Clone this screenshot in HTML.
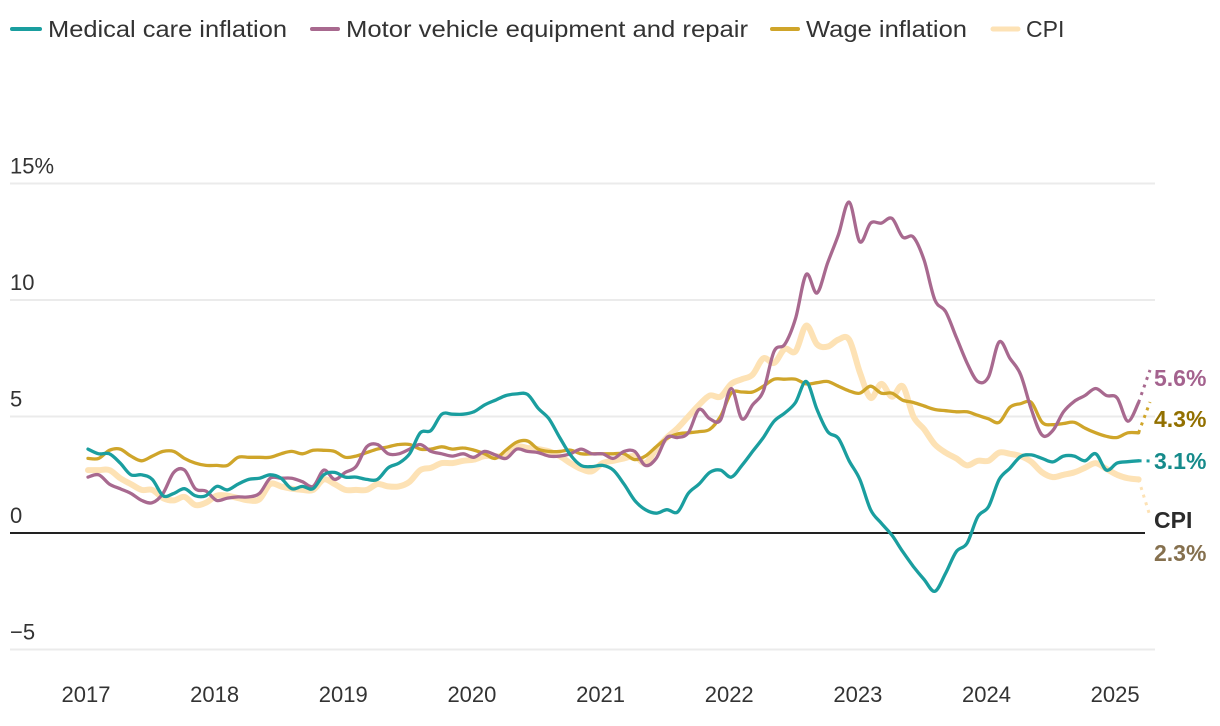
<!DOCTYPE html>
<html><head><meta charset="utf-8"><style>
html,body{margin:0;padding:0;background:#fff;}
svg{display:block;font-family:"Liberation Sans",sans-serif;}
</style></head><body>
<svg id="chart" width="1220" height="726" viewBox="0 0 1220 726">
<g id="legend">
  <g><line x1="12" y1="29" x2="40" y2="29" stroke="#1a9e9f" stroke-width="4" stroke-linecap="round"/><text x="48" y="37" font-size="23" fill="#333" textLength="239" lengthAdjust="spacingAndGlyphs">Medical care inflation</text></g>
  <g><line x1="312" y1="29" x2="338" y2="29" stroke="#a8698f" stroke-width="4" stroke-linecap="round"/><text x="346" y="37" font-size="23" fill="#333" textLength="402" lengthAdjust="spacingAndGlyphs">Motor vehicle equipment and repair</text></g>
  <g><line x1="772" y1="29" x2="798" y2="29" stroke="#cfa52a" stroke-width="4" stroke-linecap="round"/><text x="806" y="37" font-size="23" fill="#333" textLength="161" lengthAdjust="spacingAndGlyphs">Wage inflation</text></g>
  <g><line x1="993" y1="29" x2="1018" y2="29" stroke="#fde2b5" stroke-width="5" stroke-linecap="round"/><text x="1026" y="37" font-size="23" fill="#333">CPI</text></g>
</g>
<g id="grid"></g>
<g id="series"></g>
<g id="xaxis"></g>
<g id="labels"></g>
</svg>
<script>
const yTicks = [15, 10, 5, 0, -5];
const yTickLabels = ["15%", "10", "5", "0", "\u22125"];
const xYears = [2017, 2018, 2019, 2020, 2021, 2022, 2023, 2024, 2025];
const medical = [3.6,3.4,3.4,3.0,2.5,2.5,2.3,1.6,1.7,1.9,1.6,1.6,2.0,1.85,2.1,2.3,2.35,2.5,2.35,1.9,2.0,1.9,2.5,2.6,2.4,2.4,2.3,2.3,2.8,3.0,
3.4,4.3,4.4,5.1,5.1,5.1,5.2,5.5,5.7,5.9,5.97,5.95,5.35,4.9,4.1,3.35,2.9,2.85,2.9,2.7,2.1,1.4,1.0,0.85,1.0,0.9,1.7,2.1,2.6,2.7,
2.4,2.9,3.5,4.1,4.8,5.15,5.6,6.5,5.3,4.35,4.06,3.1,2.3,1.0,0.42,-0.1,-0.8,-1.44,-2.0,-2.5,-1.73,-0.8,-0.44,0.7,1.13,2.3,2.78,3.28,3.35,3.2,3.05,3.3,3.3,3.1,3.4,2.7,3.0,3.06,3.1];
const motor = [2.4,2.5,2.1,1.9,1.7,1.4,1.3,1.7,2.6,2.7,1.9,1.8,1.4,1.5,1.55,1.55,1.7,2.35,2.35,2.35,2.2,2.0,2.7,2.3,2.6,2.85,3.7,3.8,3.4,3.4,
3.6,3.8,3.5,3.4,3.3,3.4,3.25,3.5,3.35,3.2,3.6,3.5,3.45,3.3,3.3,3.4,3.6,3.4,3.4,3.2,3.5,3.5,2.9,3.2,4.1,4.1,4.3,5.3,4.9,4.85,
6.2,4.9,5.5,6.1,7.8,8.1,9.2,11.1,10.3,11.6,12.8,14.2,12.5,13.3,13.3,13.5,12.7,12.7,11.7,10.0,9.5,8.4,7.3,6.5,6.7,8.2,7.5,6.8,5.3,4.2,4.4,5.2,5.65,5.9,6.2,5.9,5.8,4.8,5.6];
const wage = [3.2,3.2,3.55,3.6,3.3,3.1,3.3,3.5,3.5,3.2,3.0,2.9,2.9,2.9,3.25,3.25,3.25,3.25,3.4,3.5,3.4,3.55,3.55,3.5,3.25,3.3,3.45,3.6,3.7,3.8,
3.8,3.6,3.6,3.7,3.6,3.65,3.56,3.4,3.2,3.56,3.9,3.95,3.6,3.5,3.5,3.56,3.4,3.4,3.4,3.4,3.4,3.15,3.3,3.7,4.06,4.25,4.3,4.35,4.45,5.0,
6.0,6.05,6.05,6.3,6.6,6.6,6.6,6.4,6.45,6.5,6.3,6.1,6.0,6.3,6.0,6.0,5.7,5.6,5.45,5.3,5.25,5.2,5.2,5.05,4.9,4.75,5.4,5.55,5.6,4.75,4.65,4.7,4.75,4.5,4.3,4.15,4.1,4.3,4.3];
const cpi = [2.7,2.7,2.7,2.35,2.1,1.85,1.85,1.5,1.4,1.55,1.2,1.3,1.6,1.6,1.5,1.4,1.45,2.1,2.0,1.9,1.85,1.85,2.3,2.1,1.85,1.85,1.85,2.1,2.0,2.0,
2.2,2.7,2.8,3.0,3.0,3.1,3.15,3.3,3.3,3.3,3.7,3.65,3.6,3.5,3.3,3.0,2.75,2.65,3.0,3.1,3.2,3.3,3.0,3.6,4.1,4.5,5.0,5.5,5.9,5.85,
6.4,6.6,6.8,7.5,7.3,7.9,7.8,8.9,8.1,8.0,8.3,8.3,6.9,5.8,6.4,5.85,6.3,5.0,4.45,3.8,3.45,3.2,2.9,3.1,3.1,3.45,3.4,3.3,3.05,2.6,2.4,2.5,2.6,2.8,3.0,2.75,2.5,2.35,2.3];
const endLabels = ["5.6%", "4.3%", "3.1%", "CPI", "2.3%"];

const NS = "http://www.w3.org/2000/svg";
function x(m){ return 88 + m * 10.72; }
function y(v){ return 533 - v * 23.3; }
function mk(tag, attrs, parent){ const e = document.createElementNS(NS, tag); for (const k in attrs) e.setAttribute(k, attrs[k]); parent.appendChild(e); return e; }

const grid = document.getElementById('grid');
yTicks.forEach((t, i) => {
  const l = mk('line', {x1:10, x2: t === 0 ? 1145 : 1155, y1:y(t), y2:y(t), stroke: t === 0 ? '#222' : '#ebebeb', 'stroke-width': 2}, grid);
  
  
  const tx = mk('text', {x:10, y:y(t) - 10, 'font-size':22, fill:'#333'}, grid);
  tx.textContent = yTickLabels[i];
  
  
});

const xa = document.getElementById('xaxis');
xYears.forEach((yr, i) => {
  const tx = mk('text', {x:x(i * 12) - 2, y:702, 'font-size':22, fill:'#333', 'text-anchor':'middle'}, xa);
  tx.textContent = yr;
  
  
});

const sg = document.getElementById('series');
function smoothPath(data){
  const pts = data.map((v, i) => [x(i), y(v)]);
  let d = 'M' + pts[0][0].toFixed(1) + ' ' + pts[0][1].toFixed(1);
  for (let i = 0; i < pts.length - 1; i++) {
    const p0 = pts[Math.max(0, i - 1)], p1 = pts[i], p2 = pts[i + 1], p3 = pts[Math.min(pts.length - 1, i + 2)];
    const c1x = p1[0] + (p2[0] - p0[0]) / 6, c1y = p1[1] + (p2[1] - p0[1]) / 6;
    const c2x = p2[0] - (p3[0] - p1[0]) / 6, c2y = p2[1] - (p3[1] - p1[1]) / 6;
    d += ' C' + c1x.toFixed(1) + ' ' + c1y.toFixed(1) + ' ' + c2x.toFixed(1) + ' ' + c2y.toFixed(1) + ' ' + p2[0].toFixed(1) + ' ' + p2[1].toFixed(1);
  }
  return d;
}
function drawSeries(data, color, width, name, endY){
  const p = mk('path', {d:smoothPath(data), fill:'none', stroke:color, 'stroke-width':width, 'stroke-linejoin':'round', 'stroke-linecap':'round'}, sg);
  
  
  const last = data.length - 1;
  const dl = mk('line', {x1:x(last), y1:y(data[last]), x2:1150, y2:endY, stroke:color, 'stroke-width':Math.min(width, 3), 'stroke-dasharray':'3 5'}, sg);
  
  
}
drawSeries(cpi, '#fde2b5', 6, 'cpi', 516);
drawSeries(wage, '#cfa52a', 3.3, 'wage', 402);
drawSeries(motor, '#a8698f', 3.3, 'motor', 370);
drawSeries(medical, '#1a9e9f', 3.3, 'medical', 461);

const lg = document.getElementById('labels');
const labelColors = ['#a4628e', '#927000', '#168b8b', '#2b2b2b', '#85704e'];
const labelY = [386, 427, 469, 528, 561];
endLabels.forEach((t, i) => {
  const tx = mk('text', {x:1154, y:labelY[i], 'font-size':23, 'font-weight':'bold', fill:labelColors[i]}, lg);
  tx.textContent = t;
  
  
});
</script>
</body></html>
